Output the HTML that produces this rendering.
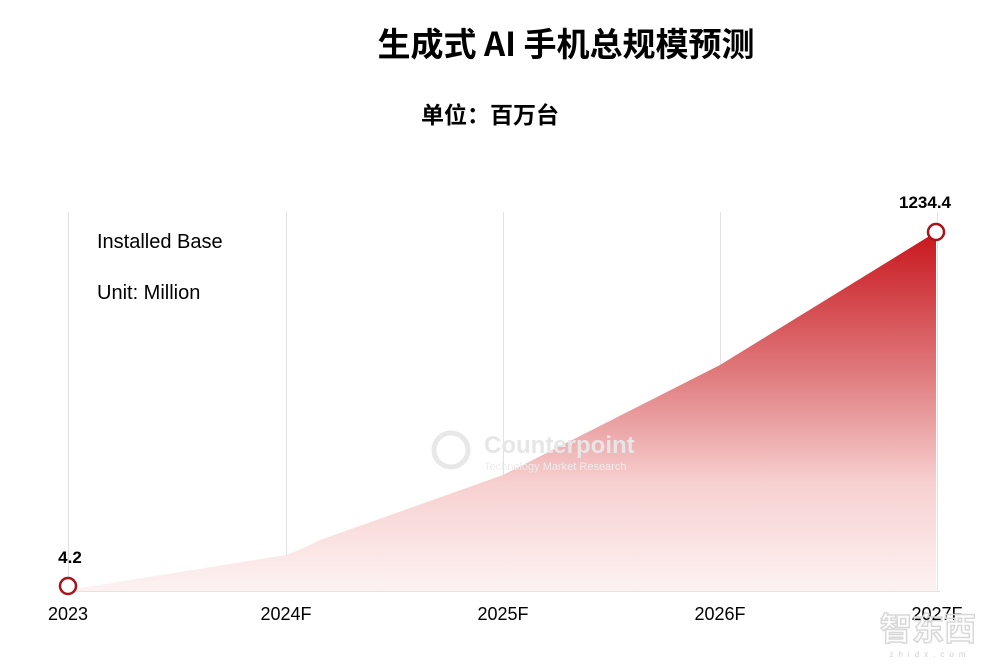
<!DOCTYPE html>
<html><head><meta charset="utf-8"><style>
body{margin:0;background:#fff;}
svg{display:block}
</style></head><body>
<svg width="1000" height="664" xmlns="http://www.w3.org/2000/svg">
<defs>
<linearGradient id="g" x1="0" y1="232" x2="0" y2="591" gradientUnits="userSpaceOnUse">
<stop offset="0" stop-color="#c8161c"/>
<stop offset="0.4" stop-color="#e07c7f"/>
<stop offset="0.7" stop-color="#f7d0d0"/>
<stop offset="1" stop-color="#fdf2f2"/>
</linearGradient>
</defs>
<text x="566" y="56" text-anchor="middle" font-family="'Noto Sans CJK SC','Liberation Mono',sans-serif" font-weight="bold" font-size="33" fill="#000">生成式 AI 手机总规模预测</text>
<text x="490" y="123" text-anchor="middle" font-family="'Liberation Sans','Noto Sans CJK SC',sans-serif" font-weight="bold" font-size="23" fill="#000">单位：百万台</text>
<g stroke="#e2e2e2" stroke-width="1">
<line x1="68.5" y1="212" x2="68.5" y2="591"/>
<line x1="286.5" y1="212" x2="286.5" y2="591"/>
<line x1="503.5" y1="212" x2="503.5" y2="591"/>
<line x1="720.5" y1="212" x2="720.5" y2="591"/>
<line x1="937.5" y1="212" x2="937.5" y2="591"/>
<line x1="68" y1="591.5" x2="940" y2="591.5"/>
</g>
<path d="M68,590 L286,555 Q300,550 320,540 L503,475 L720,365 L936,232 L936,591 L68,591 Z" fill="url(#g)"/>
<circle cx="451" cy="450" r="17" fill="none" stroke="#e8e8e8" stroke-width="5"/>
<text x="484" y="453" font-family="'Liberation Sans',sans-serif" font-weight="bold" font-size="24" fill="#e6e6e6">Counterpoint</text>
<text x="484" y="470" font-family="'Liberation Sans',sans-serif" font-size="11" fill="#ececec">Technology Market Research</text>
<circle cx="68" cy="586" r="8" fill="#fff" stroke="#a8141a" stroke-width="2.5"/>
<circle cx="936" cy="232" r="8" fill="#fff" stroke="#a8141a" stroke-width="2.5"/>
<g font-family="'Liberation Sans',sans-serif" fill="#000">
<text x="97" y="248" font-size="20">Installed Base</text>
<text x="97" y="299" font-size="20">Unit: Million</text>
<text x="70" y="563" font-size="17" font-weight="bold" text-anchor="middle">4.2</text>
<text x="925" y="208" font-size="17" font-weight="bold" text-anchor="middle">1234.4</text>
<g font-size="18" text-anchor="middle">
<text x="68" y="620">2023</text>
<text x="286" y="620">2024F</text>
<text x="503" y="620">2025F</text>
<text x="720" y="620">2026F</text>
<text x="937" y="620">2027F</text>
</g>
</g>
<text x="928" y="640" text-anchor="middle" font-family="'Noto Sans CJK SC',sans-serif" font-weight="bold" font-size="32" fill="none" stroke="#d8d8d8" stroke-width="1.5">智东西</text>
<text x="930" y="657" text-anchor="middle" font-family="'Liberation Sans',sans-serif" font-size="8" fill="#d0d0d0" letter-spacing="5">zhidx.com</text>
</svg>
</body></html>
